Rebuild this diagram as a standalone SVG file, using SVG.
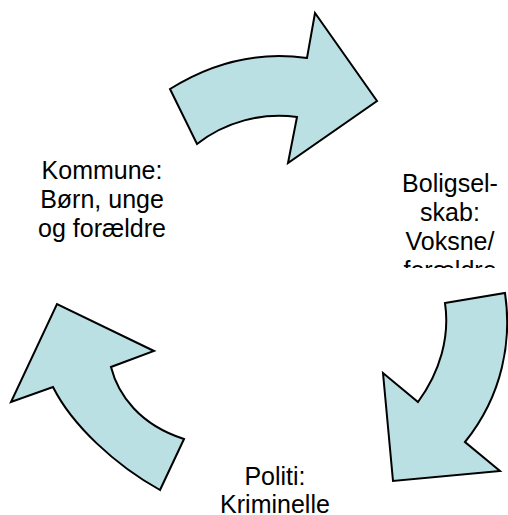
<svg xmlns="http://www.w3.org/2000/svg" width="508" height="515" viewBox="0 0 508 515">
<defs>
<style>
.arrow{fill:#BBE0E3;stroke:#000;stroke-width:2;stroke-linejoin:miter}
.lbl{font-family:"Liberation Sans",Arial,sans-serif;font-size:25px;fill:#000;text-anchor:middle}
</style>
<clipPath id="clipBolig"><rect x="380" y="150" width="128" height="118"/></clipPath>
</defs>
<rect width="508" height="515" fill="#fff"/>
<g id="connectors">
<path id="arrow-top" class="arrow" d="M170,89 C205,67 250,50 307,58 L315,13 L377,101 L288,163 L297,117 C262,112 225,122 197,144 Z"/>
<path id="arrow-right" class="arrow" d="M445,303 L505,293 C512,340 503,395 465,442 L500,471 L393,481 L383,373 L418,402 C440,372 450,337 445,303 Z"/>
<path id="arrow-left" class="arrow" d="M160,490 C115,465 72,425 53,387 L11,402 L57,304 L154,351 L111,367 C118,395 140,425 184,439 Z"/>
</g>
<g id="node-kommune">
<text class="lbl" x="102" y="179">Kommune:</text>
<text class="lbl" x="102" y="208">Børn, unge</text>
<text class="lbl" x="102" y="237">og forældre</text>
</g>
<g id="node-boligselskab" clip-path="url(#clipBolig)">
<text class="lbl" x="450" y="192">Boligsel-</text>
<text class="lbl" x="450" y="221">skab:</text>
<text class="lbl" x="450" y="250">Voksne/</text>
<text class="lbl" x="450" y="279">forældre</text>
</g>
<g id="node-politi">
<text class="lbl" x="275" y="485">Politi:</text>
<text class="lbl" x="275" y="513">Kriminelle</text>
</g>
</svg>
